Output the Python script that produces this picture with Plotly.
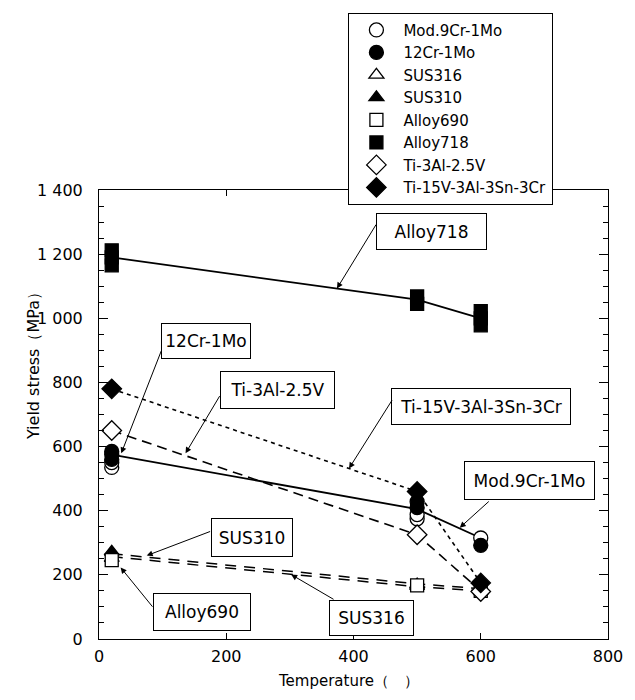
import plotly.graph_objects as go

FONT = "DejaVu Sans"

# ---------------- data ----------------
temps = [20, 500, 600]

mod9_x = [20, 20, 500, 500, 600]
mod9_y = [535, 550, 375, 388, 315]
cr12_x = [20, 20, 20, 500, 500, 600]
cr12_y = [560, 575, 585, 410, 428, 292]
sus316_y = [252, 165, 150]
sus310_y = [272, 170, 158]
alloy690_y = [246, 167, 150]
a718_x = [20, 20, 20, 500, 500, 600, 600, 600]
a718_y = [1165, 1190, 1212, 1045, 1068, 978, 1000, 1022]
ti3al_y = [650, 325, 148]
ti15v_y = [780, 460, 175]

# mean lines
ferritic_line = [575, 405, 315]
a718_line = [1190, 1058, 1000]
ti3al_line = [650, 325, 150]
ti15v_line = [780, 460, 175]
sus310_line = [266, 172, 157]
sus316_line = [257, 163, 150]

y_ticks = [0, 200, 400, 600, 800, 1000, 1200, 1400]
y_ticktext = ["0", "200", "400", "600", "800", "1 000", "1 200", "1 400"]
x_ticks = [0, 200, 400, 600, 800]
x_ticktext = ["0", "200", "400", "600", "800"]

fig = go.Figure()

# ---------------- lines ----------------
def add_line(y, dash, width=1.6):
    fig.add_trace(go.Scatter(x=temps, y=y, mode="lines", showlegend=False,
                             line=dict(color="black", width=width, dash=dash),
                             hoverinfo="skip"))

add_line(a718_line, "solid", 1.8)
add_line(ferritic_line, "solid", 1.8)
add_line(ti3al_line, "10px,6px", 1.6)
add_line(ti15v_line, "4px,4px", 1.6)
add_line(sus310_line, "11px,8px", 1.5)
add_line(sus316_line, "11px,8px", 1.5)

# ---------------- markers ----------------
def add_markers(name, x, y, symbol, filled, size):
    fig.add_trace(go.Scatter(
        x=x, y=y, mode="markers", name=name,
        marker=dict(symbol=symbol, size=size,
                    color="black" if filled else "white",
                    line=dict(color="black", width=1.3))))

add_markers("Mod.9Cr-1Mo", mod9_x, mod9_y, "circle", False, 14)
add_markers("12Cr-1Mo", cr12_x, cr12_y, "circle", True, 14)
add_markers("SUS316", temps, sus316_y, "triangle-up", False, 13)
add_markers("SUS310", temps, sus310_y, "triangle-up", True, 13)
add_markers("Alloy690", temps, alloy690_y, "square", False, 13)
add_markers("Alloy718", a718_x, a718_y, "square", True, 13)
add_markers("Ti-3Al-2.5V", temps, ti3al_y, "diamond", False, 15)
add_markers("Ti-15V-3Al-3Sn-3Cr", temps, ti15v_y, "diamond", True, 15)

# ---------------- annotation boxes ----------------
boxes = [
    # text, x, y, width, height
    ("Alloy718", 523, 1271, 107, 33),
    ("12Cr-1Mo", 168, 929, 86, 32),
    ("Ti-3Al-2.5V", 280, 777, 111, 34),
    ("Ti-15V-3Al-3Sn-3Cr", 601, 726, 176, 33),
    ("Mod.9Cr-1Mo", 676, 494, 127, 35),
    ("SUS310", 240, 317, 78, 35),
    ("Alloy690", 162, 84, 94, 34),
    ("SUS316", 429, 65, 81, 32),
]
for t, bx, by, bw, bh in boxes:
    fig.add_annotation(x=bx, y=by, xref="x", yref="y", text=t, showarrow=False,
                       font=dict(family=FONT, size=17, color="black"),
                       bordercolor="black", borderwidth=1, borderpad=1,
                       bgcolor="white", width=bw, height=bh)

arrows = [
    # tip x, tip y, tail x, tail y
    (374, 1093, 437, 1297),
    (35, 579, 99, 904),
    (136, 579, 191, 762),
    (393, 532, 462, 749),
    (567, 347, 615, 433),
    (75, 260, 177, 337),
    (34, 223, 86, 96),
    (302, 201, 371, 121),
]
for tx, ty, sx, sy in arrows:
    fig.add_annotation(x=tx, y=ty, xref="x", yref="y", ax=sx, ay=sy,
                       axref="x", ayref="y", text="", showarrow=True,
                       arrowhead=2, arrowsize=1.2, arrowwidth=1,
                       arrowcolor="black")

# axis titles
fig.add_annotation(xref="paper", yref="paper", x=-0.15, y=0.617,
                   text="Yield stress（MPa）", textangle=-90, showarrow=False,
                   font=dict(family=FONT, size=16, color="black"))
fig.add_annotation(xref="paper", yref="paper", x=0.49, y=-0.118,
                   text="Temperature（　）", showarrow=False,
                   font=dict(family=FONT, size=15, color="black"))

axis_common = dict(showline=True, linecolor="black", linewidth=1, mirror="ticks",
                   ticks="inside", tickcolor="black", showgrid=False, zeroline=False,
                   tickfont=dict(family=FONT, size=16, color="black"))

fig.update_layout(
    width=635, height=700,
    margin=dict(l=99, r=16, t=187, b=61),
    paper_bgcolor="white", plot_bgcolor="white",
    font=dict(family=FONT, color="black"),
    xaxis=dict(range=[0, 800], tickvals=x_ticks, ticktext=x_ticktext,
               ticklen=6, ticklabelstandoff=3, **axis_common),
    yaxis=dict(range=[0, 1400], tickvals=y_ticks, ticktext=y_ticktext,
               ticklen=9, ticklabelstandoff=12,
               minor=dict(ticks="inside", ticklen=5, dtick=50, tickcolor="black"),
               **axis_common),
    legend=dict(x=0.49, y=1.395, xanchor="left", yanchor="top",
                bordercolor="black", borderwidth=1, bgcolor="white",
                font=dict(family=FONT, size=15, color="black"),
                itemwidth=44, tracegroupgap=0),
)

fig.write_html("out.html")
